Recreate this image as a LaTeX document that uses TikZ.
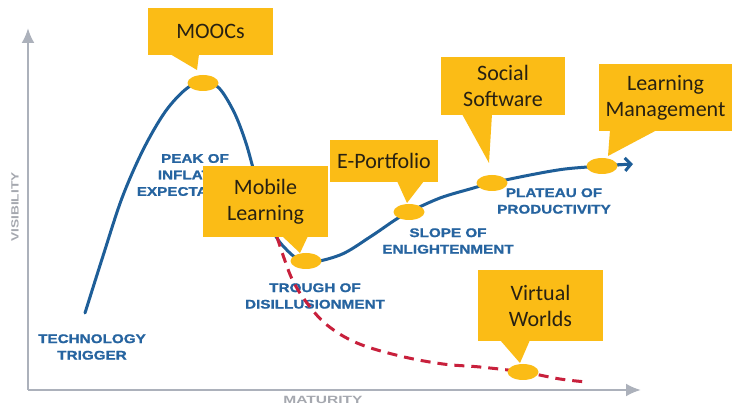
\documentclass[tikz,border=0pt]{standalone}
\usepackage{fontspec}
\setmainfont{Carlito}
\newfontfamily\stagefont[FakeStretch=1.22,FakeBold=1.2]{Liberation Sans}
\newfontfamily\axisfont[FakeStretch=1.3]{Liberation Sans}
\usetikzlibrary{arrows.meta,shapes.geometric}
\definecolor{cyellow}{RGB}{251,188,22}
\definecolor{ctext}{RGB}{40,33,18}
\definecolor{hypeblue}{RGB}{30,94,152}
\definecolor{stageblue}{RGB}{38,100,160}
\definecolor{hypered}{RGB}{200,32,60}
\definecolor{axisgray}{RGB}{172,177,187}
\definecolor{labelgray}{RGB}{165,168,175}
\tikzset{
  callout/.style={fill=cyellow, inner sep=0pt, text=ctext, align=center,
    font=\fontsize{22}{26}\selectfont},
  tailshape/.style={fill=cyellow},
  dot/.style={ellipse, fill=cyellow, minimum width=31pt, minimum height=16pt, inner sep=0pt},
  stagelabel/.style={text=stageblue, align=center,
    font=\stagefont\bfseries\fontsize{12.5}{16.5}\selectfont},
  axislabel/.style={text=labelgray, font=\axisfont\bfseries\fontsize{10.5}{12}\selectfont},
  axisline/.style={draw=axisgray, line width=2.5pt, -{Latex[length=15pt,width=13pt]}},
  hypecurve/.style={draw=hypeblue, line width=3pt, line cap=round},
  failcurve/.style={draw=hypered, line width=3pt, dash pattern=on 10pt off 7pt}
}
\begin{document}
\begin{tikzpicture}[x=1pt,y=-1pt]
\useasboundingbox[fill=white] (0,0) rectangle (732,406);

% axes
\coordinate (origin) at (28,390);
\coordinate (ytop) at (28,28);
\coordinate (xend) at (641,390);
\draw[axisline] (origin) -- (ytop);
\draw[axisline] (origin) -- (xend);
\node[axislabel, rotate=90] (vis) at (15,207) {VISIBILITY};
\node[axislabel] (mat) at (323,400) {\scalebox{1.14}[1]{MATURITY}};

% stage labels
\node[stagelabel] (trigger) at (92,347) {TECHNOLOGY\\TRIGGER};
\node[stagelabel] (peak) at (195,175) {PEAK OF\\INFLATED\\EXPECTATIONS};
\node[stagelabel] (trough) at (315,296) {TROUGH OF\\DISILLUSIONMENT};
\node[stagelabel] (slope) at (448,241) {SLOPE OF\\ENLIGHTENMENT};
\node[stagelabel] (plateau) at (554,201) {PLATEAU OF\\PRODUCTIVITY};

% hype curve
\draw[hypecurve] plot[smooth, tension=0.55] coordinates {
  (85,313) (103,256) (122,198) (143,150) (165,112) (186,89) (203,81)
  (219,88) (234,112) (245,140) (253,168) (262,203) (271,227) (283,246) (305,262)
  (340,255) (370,237) (395,220) (409,212) (440,198) (470,189) (492,183)
  (530,175) (565,169) (602,166) (622,164.5)};
\draw[hypeblue, line width=3pt, -{Straight Barb[length=6pt,width=13pt]}] (618,164.8) -- (633,164);

% failing curve
\draw[failcurve] plot[smooth, tension=0.6] coordinates {
  (277,237) (284,258) (293,281) (307,303) (327,325) (357,343) (400,356)
  (443,364) (480,367) (523,372) (560,379) (587,382)};

% dots
\node[dot] (dmooc) at (203,83) {};
\node[dot] (dtrough) at (306,261) {};
\node[dot] (deport) at (409,212) {};
\node[dot] (dsocial) at (492,183) {};
\node[dot] (dlms) at (602,166) {};
\node[dot] (dvirtual) at (523,372) {};

% callouts
\node[callout, minimum width=125pt, minimum height=47pt] (mooc) at (210.5,31.5) {MOOCs};
\fill[tailshape] (170,54) -- (197,70) -- (199,54) -- cycle;

\node[callout, minimum width=125pt, minimum height=71pt] (mobile) at (265.5,201.5) {Mobile\\Learning};
\fill[tailshape] (282,236) -- (300,253) -- (308,236) -- cycle;

\node[callout, minimum width=108pt, minimum height=42pt] (eport) at (384,161) {E-Portfolio};
\fill[tailshape] (397,181) -- (407,203) -- (424,181) -- cycle;

\node[callout, minimum width=124pt, minimum height=58pt] (social) at (503,86) {Social\\Software};
\fill[tailshape] (462,114) -- (489,163) -- (492,114) -- cycle;

\node[callout, minimum width=133pt, minimum height=67pt] (lms) at (665.5,97.5) {Learning\\Management};
\fill[tailshape] (610,130) -- (608,156) -- (657,130) -- cycle;

\node[callout, minimum width=125pt, minimum height=71pt] (virtual) at (540.5,305.5) {Virtual\\Worlds};
\fill[tailshape] (500,340) -- (520,363) -- (530,340) -- cycle;
\end{tikzpicture}
\end{document}
